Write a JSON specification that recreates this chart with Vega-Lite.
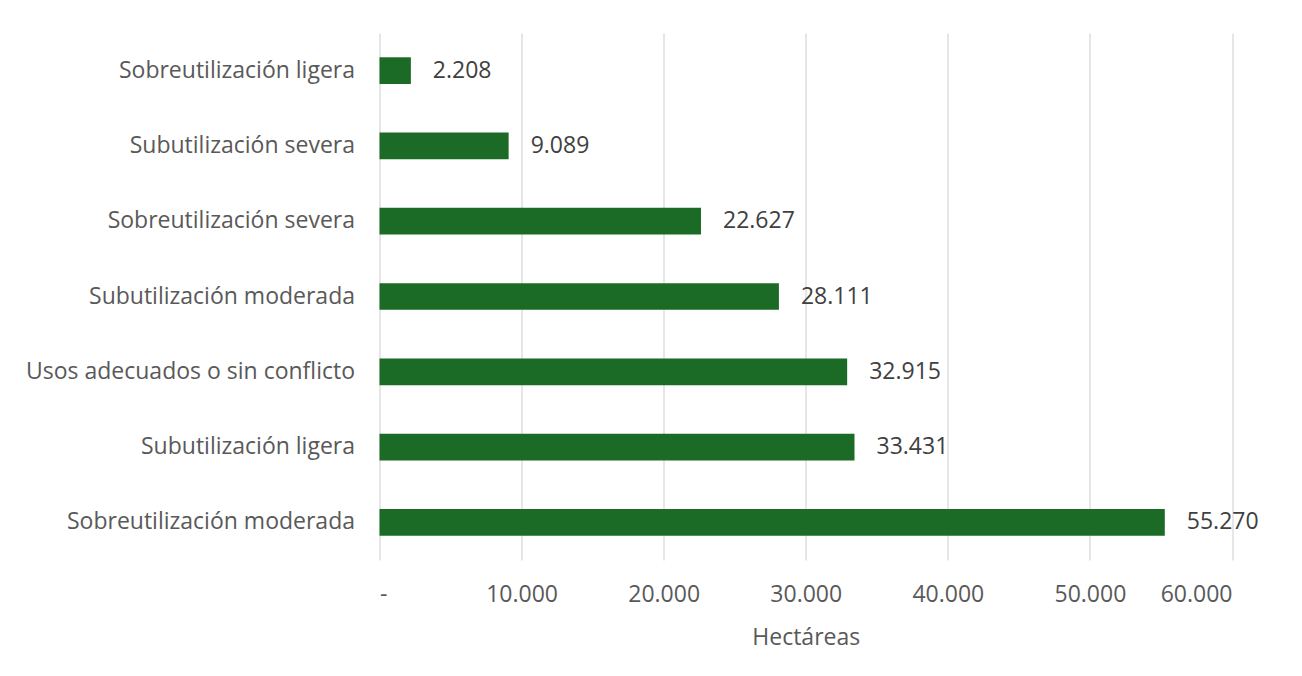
{
  "$schema": "https://vega.github.io/schema/vega-lite/v6.json",
  "autosize": "none",
  "width": 852.5,
  "height": 527,
  "padding": {"left": 379.5, "top": 33, "right": 70, "bottom": 116},
  "background": "white",
  "config": {
    "locale": {"number": {"decimal": ",", "thousands": ".", "grouping": [3], "currency": ["$", ""]}},
    "view": {"stroke": null},
    "font": "Open Sans"
  },
  "data": {
    "values": [
      {"categoria": "Sobreutilización ligera", "hectareas": 2208},
      {"categoria": "Subutilización severa", "hectareas": 9089},
      {"categoria": "Sobreutilización severa", "hectareas": 22627},
      {"categoria": "Subutilización moderada", "hectareas": 28111},
      {"categoria": "Usos adecuados o sin conflicto", "hectareas": 32915},
      {"categoria": "Subutilización ligera", "hectareas": 33431},
      {"categoria": "Sobreutilización moderada", "hectareas": 55270}
    ]
  },
  "encoding": {
    "y": {
      "field": "categoria",
      "type": "nominal",
      "sort": {"field": "hectareas", "order": "ascending"},
      "scale": {"paddingInner": 0.645, "paddingOuter": 0.3225},
      "axis": {
        "title": null,
        "domain": false,
        "ticks": false,
        "labelPadding": 25,
        "labelFontSize": 23,
        "labelColor": "#595959",
        "labelFont": "Open Sans",
        "labelLimit": 400
      }
    },
    "x": {
      "field": "hectareas",
      "type": "quantitative",
      "scale": {"domain": [0, 60000], "nice": false},
      "axis": {
        "title": "Hectáreas",
        "values": [0, 10000, 20000, 30000, 40000, 50000, 60000],
        "format": ",.0f",
        "labelExpr": "datum.value == 0 ? '-' : datum.label",
        "domain": false,
        "ticks": false,
        "grid": true,
        "gridColor": "#d9d9d9",
        "gridWidth": 1.3,
        "labelPadding": 23,
        "labelFontSize": 23,
        "labelColor": "#595959",
        "labelFont": "Open Sans",
        "titleFontSize": 23,
        "titleFontWeight": "normal",
        "titleColor": "#595959",
        "titleFont": "Open Sans",
        "titlePadding": 20
      }
    }
  },
  "layer": [
    {"mark": {"type": "bar", "color": "#1b6b26"}},
    {
      "mark": {"type": "text", "align": "left", "baseline": "middle", "dx": 22, "fontSize": 23, "color": "#404040", "font": "Open Sans"},
      "encoding": {"text": {"field": "hectareas", "type": "quantitative", "format": ",.0f"}}
    }
  ]
}
